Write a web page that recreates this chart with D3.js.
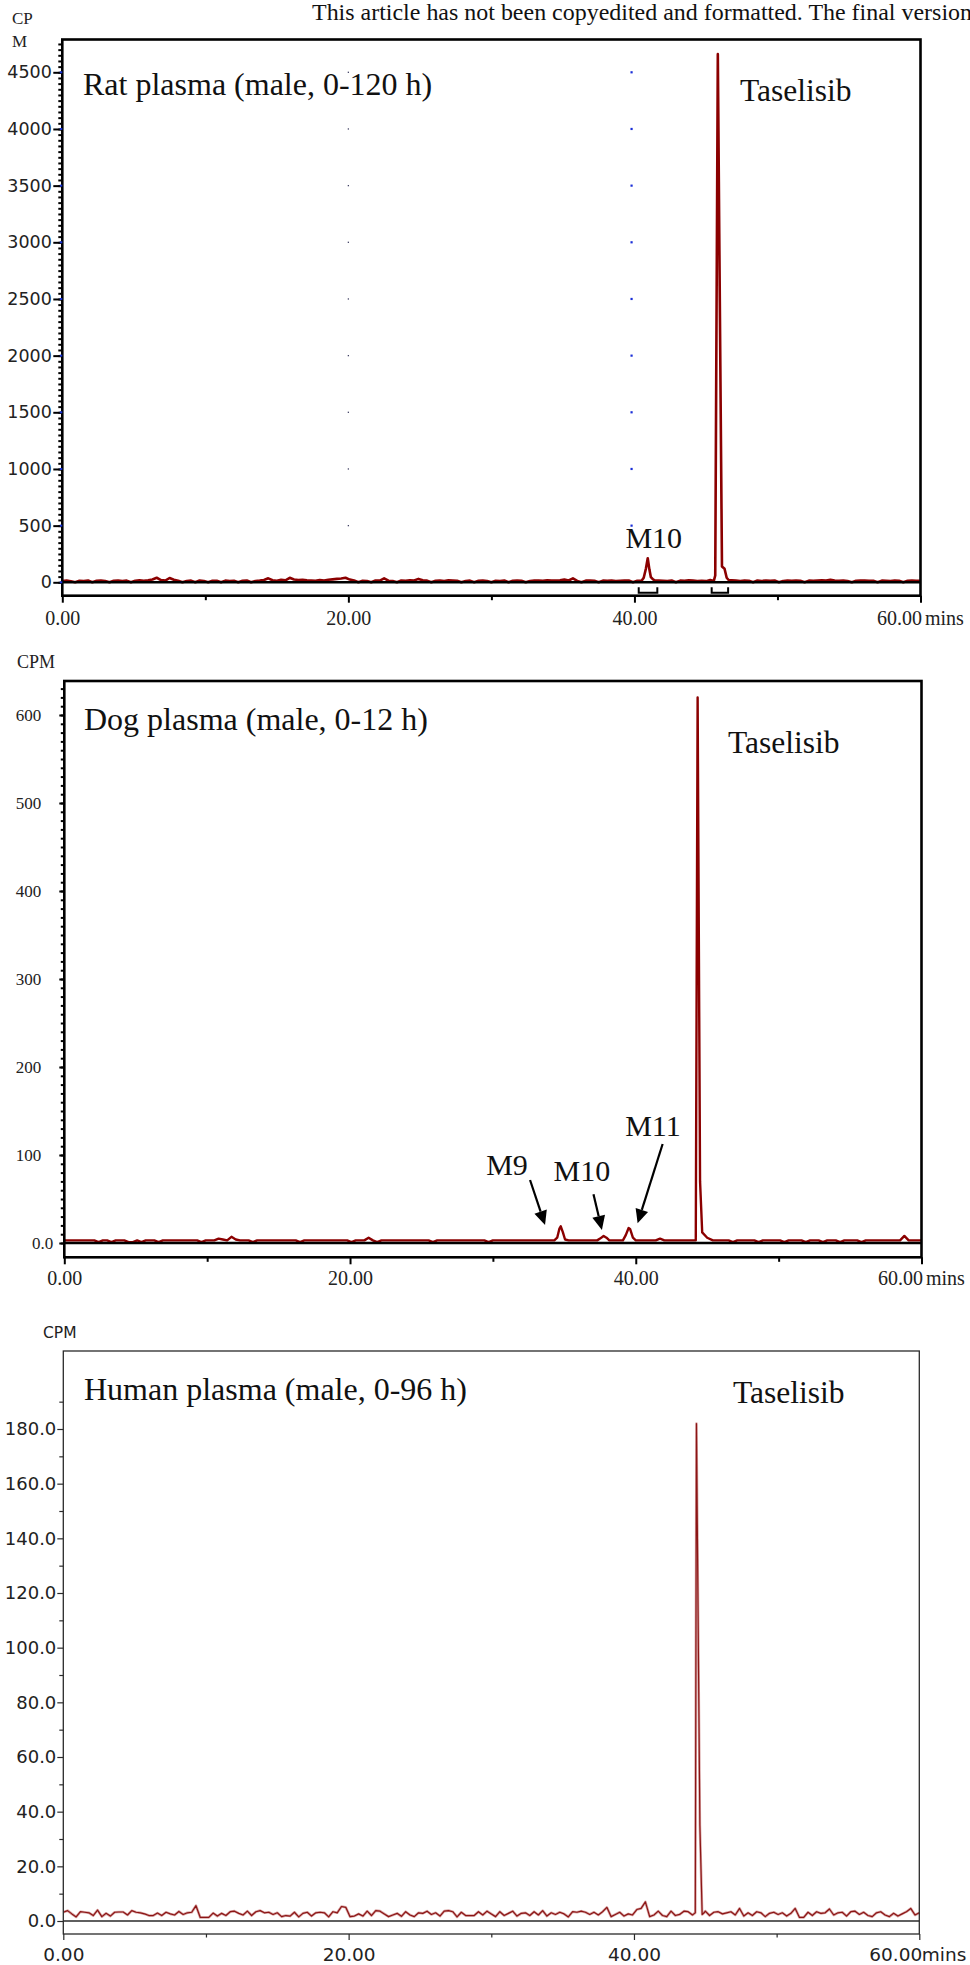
<!DOCTYPE html>
<html><head><meta charset="utf-8">
<script src="https://cdn.jsdelivr.net/npm/d3@7"></script>
<style>body{margin:0;background:#fff}</style>
</head><body>
<svg id="c" width="970" height="1965" xmlns="http://www.w3.org/2000/svg"></svg>
<script>
// ---------------- DATA ----------------
const xTicks = [0, 20, 40, 60];
const xTickLabels = ["0.00", "20.00", "40.00", "60.00"];
const xMinor = [10, 30, 50];
const sampleStep = 0.3; // min between baseline samples

// Rat plasma (CPM)
const ratBase = [
 12,15,10,0,14,12,16,0,13,15,
 12,0,14,16,12,15,0,13,17,14,
 18,25,40,20,15,38,22,14,0,12,
 15,0,16,12,0,14,13,0,15,12,
 14,0,13,16,0,12,15,20,35,18,
 14,22,18,40,25,20,22,18,16,14,
 20,16,22,26,30,34,40,24,16,0,
 14,12,0,16,15,35,14,12,0,16,
 14,18,16,30,18,15,0,14,16,12,
 18,16,14,0,12,15,0,13,15,12,
 0,14,12,16,0,13,15,14,0,12,
 15,16,14,18,15,16,18,25,16,35,
 12,0,15,16,14,0,15,13,16,12,
 14,15,16,0,14,15,15,15,18,16,
 14,12,16,0,15,14,18,15,12,14,
 10,20,12,12,14,16,18,15,12,16,
 14,0,16,12,15,14,16,0,12,15,
 14,16,13,0,15,14,16,18,16,22,
 16,14,15,12,0,14,16,15,14,13,
 0,15,14,12,16,14,0,13,15,14,
 14];
const ratPeakM10 = [[40.5,14],[40.65,40],[40.8,120],[40.93,212],[41.05,110],[41.15,45],[41.3,25],[41.45,15]];
const ratPeakTas = [[45.55,12],[45.65,60],[45.83,4660],[46.12,140],[46.3,120],[46.45,40],[46.6,18]];
const ratYTicks = [0,500,1000,1500,2000,2500,3000,3500,4000,4500];
const ratYLabels = ["0","500","1000","1500","2000","2500","3000","3500","4000","4500"];
const ratBrackets = [[40.3, 41.6], [45.4, 46.55]];

// Dog plasma (CPM)
const dogBase = [
 3,3,3,3,3,3,3,3,1,3,
 3,1,3,3,3,1,1,3,1,3,
 3,3,1,3,3,3,3,3,3,3,
 3,3,1,3,3,3,5,4,3,7,
 4,3,3,3,1,3,3,3,3,3,
 3,3,3,3,3,1,3,3,3,3,
 3,3,3,3,3,3,3,1,3,3,
 3,6,3,1,3,3,3,3,3,3,
 3,3,3,3,3,3,1,3,3,3,
 3,3,3,3,3,3,3,3,3,1,
 3,3,3,3,3,3,3,3,3,3,
 3,3,3,3,3,3,3,3,3,3,
 3,3,3,3,3,3,3,3,3,3,
 3,3,3,3,3,3,3,3,3,5,
 3,3,3,3,3,3,3,3,3,3,
 3,3,3,3,3,3,1,3,3,3,
 3,3,1,3,3,3,3,3,1,3,
 3,3,3,1,3,3,3,1,3,3,
 3,1,3,3,3,3,1,3,3,3,
 3,3,3,3,3,3,8,3,3,3,
 3];
const dogPeakM9  = [[34.3,3],[34.5,6],[34.65,16],[34.75,19],[34.9,12],[35.05,4],[35.3,3]];
const dogPeakM10 = [[37.3,3],[37.5,5],[37.75,8],[37.95,6],[38.15,3]];
const dogPeakM11 = [[39.1,3],[39.3,9],[39.5,17],[39.6,16],[39.8,6],[40.0,3]];
const dogPeakTas = [[44.2,3],[44.33,620],[44.5,70],[44.65,12],[45.0,6],[45.4,3]];
const dogYTicks = [0,100,200,300,400,500,600];
const dogYLabels = ["0.0","100","200","300","400","500","600"];
const dogLabels = [
  {text:"M9",  t:29.53, v:77.3,  from:[32.6,71.6],  to:[33.65,20.5]},
  {text:"M10", t:34.24, v:70.8,  from:[37.04,55.3], to:[37.63,14.8]},
  {text:"M11", t:39.26, v:121.6, from:[41.88,112.5],to:[40.13,22.4]}
];

// Human plasma (CPM)
const humBase = [
 3.2,3.8,2.6,1.5,3.4,3.2,3.0,2.0,4.0,1.6,
 2.8,1.8,3.2,3.3,3.3,2.2,3.8,3.2,3.0,2.6,
 2.0,2.0,2.9,2.0,3.2,2.6,2.2,3.5,2.4,3.0,
 3.2,5.6,1.3,1.3,1.3,2.9,1.8,2.8,2.0,3.4,
 3.6,2.8,2.2,3.6,2.0,3.4,3.8,3.0,3.2,2.4,
 3.0,1.6,2.0,1.8,3.2,1.5,2.8,3.2,1.8,3.0,
 3.2,3.0,1.5,3.4,3.0,5.3,5.0,1.6,1.8,2.6,
 1.8,3.6,2.0,3.8,3.6,2.6,1.6,2.2,2.8,1.7,
 3.4,2.2,1.6,3.0,2.8,3.6,2.4,3.0,1.8,3.6,
 3.8,3.4,1.5,3.2,2.0,2.0,2.0,3.4,2.2,3.6,
 2.6,1.6,3.4,2.0,2.8,3.6,1.8,2.8,3.0,2.0,
 3.4,2.2,3.8,1.8,3.0,2.4,3.2,2.6,1.5,3.4,
 3.2,3.6,3.2,2.4,3.2,2.2,3.4,5.0,1.6,2.4,
 3.2,1.8,2.6,2.2,4.2,4.6,7.0,1.6,2.2,3.6,
 2.0,1.6,3.6,2.0,2.4,3.6,3.4,2.2,3.0,3.0,
 3.6,2.0,3.2,3.4,2.6,3.0,3.4,2.2,4.6,1.8,
 3.0,2.0,3.4,3.0,1.6,2.8,3.2,2.4,3.0,1.8,
 2.8,4.6,1.3,1.3,3.2,2.0,3.4,2.8,3.0,4.4,
 2.2,3.0,3.2,1.8,3.4,3.6,2.4,3.2,2.0,1.6,
 3.0,3.4,2.2,1.6,2.8,1.8,2.6,3.4,4.6,2.2,
 3.0];
const humPeakTas = [[44.2,2.6],[44.3,3.0],[44.38,182],[44.62,35],[44.78,2.4],[44.95,3.2]];
const humYTicks = [0,20,40,60,80,100,120,140,160,180];
const humYLabels = ["0.0","20.0","40.0","60.0","80.0","100.0","120.0","140.0","160.0","180.0"];

// ---------------- DRAWING ----------------
const SERIF = "'Liberation Serif','Times New Roman',serif";
const SANS = "'DejaVu Sans',Verdana,sans-serif";
const svg = d3.select("#c");

function series(base, step, peaks) {
  let pts = base.map((v, i) => [+(i * step).toFixed(3), v]);
  peaks.forEach(p => {
    const a = p[0][0], b = p[p.length - 1][0];
    pts = pts.filter(d => d[0] < a || d[0] > b).concat(p);
  });
  return pts.sort((m, n) => m[0] - n[0]);
}

svg.append("text").attr("x", 312).attr("y", 20)
  .attr("font-family", SERIF).attr("font-size", 23).attr("fill", "#111")
  .attr("textLength", 660).attr("lengthAdjust", "spacingAndGlyphs")
  .text("This article has not been copyedited and formatted. The final version");

function panel(c) {
  const g = svg.append("g");
  const x = d3.scaleLinear().domain([0, 60]).range([c.left, c.right]);
  const y = d3.scaleLinear().domain([0, c.yRef]).range([c.y0, c.yRefPx]);
  const data = series(c.base, sampleStep, c.peaks);
  const line = d3.line().x(d => x(d[0])).y(d => y(d[1]));

  if (c.dots) {
    c.dots.forEach(dd => {
      g.selectAll(null).data(c.yTicks.filter(v => v > 0)).enter().append("rect")
        .attr("x", x(dd.t) - dd.s / 2).attr("y", v => y(v) - dd.s / 2)
        .attr("width", dd.s).attr("height", dd.s).attr("fill", dd.color);
    });
  }

  if (c.halo) {
    g.append("path").datum(data).attr("d", line).attr("fill", "none")
      .attr("stroke", c.halo).attr("stroke-width", c.lw + 1.4).attr("stroke-linejoin", "round");
  }
  g.append("path").datum(data).attr("d", line).attr("fill", "none")
    .attr("stroke", c.color).attr("stroke-width", c.lw).attr("stroke-linejoin", "round");

  g.append("line").attr("x1", c.left).attr("x2", c.right).attr("y1", y(0)).attr("y2", y(0))
    .attr("stroke", c.axisColor).attr("stroke-width", c.axisW);

  g.append("rect").attr("x", c.left).attr("y", c.top).attr("width", c.right - c.left)
    .attr("height", c.bottom - c.top).attr("fill", "none")
    .attr("stroke", c.axisColor).attr("stroke-width", c.axisW);

  const yMinorAxis = d3.axisLeft(y).tickValues(c.yMinor).tickSize(c.minLen).tickFormat("");
  const gm = g.append("g").attr("transform", `translate(${c.left},0)`).call(yMinorAxis);
  gm.select(".domain").remove();
  gm.selectAll("line").attr("stroke", c.axisColor).attr("stroke-width", c.tickW);

  const yAxis = d3.axisLeft(y).tickValues(c.yTicks).tickSize(c.majLen).tickPadding(c.yPad)
    .tickFormat((d, i) => c.yLabels[i]);
  const ga = g.append("g").attr("transform", `translate(${c.left},0)`).call(yAxis);
  ga.select(".domain").remove();
  ga.selectAll("line").attr("stroke", c.axisColor).attr("stroke-width", c.tickW);
  ga.selectAll("text").attr("font-family", c.yFont).attr("font-size", c.yFs).attr("fill", "#222");
  if (c.zeroLabelX !== undefined) {
    ga.selectAll(".tick").filter(d => d === 0).select("text").attr("x", c.zeroLabelX);
  }
  if (c.blueTicks) {
    g.selectAll(null).data(c.yTicks).enter().append("rect")
      .attr("x", c.left - 2.5).attr("y", v => y(v) - 1).attr("width", 2.5).attr("height", 2)
      .attr("fill", "#1530d0");
  }

  const xm = g.append("g").attr("transform", `translate(0,${c.bottom})`)
    .call(d3.axisBottom(x).tickValues(xMinor).tickSize(c.xMinLen).tickFormat(""));
  xm.select(".domain").remove();
  xm.selectAll("line").attr("stroke", c.axisColor).attr("stroke-width", c.tickW);
  const xa = g.append("g").attr("transform", `translate(0,${c.bottom})`)
    .call(d3.axisBottom(x).tickValues(xTicks).tickSize(c.xMajLen).tickPadding(c.xPad)
      .tickFormat((d, i) => xTickLabels[i]));
  xa.select(".domain").remove();
  xa.selectAll("line").attr("stroke", c.axisColor).attr("stroke-width", c.tickW);
  xa.selectAll("text").attr("font-family", c.xFont).attr("font-size", c.xFs).attr("fill", "#222");
  const last = xa.selectAll(".tick").filter(d => d === 60);
  last.select("text").attr("text-anchor", "end").attr("x", c.lastDx);
  last.append("text").attr("x", c.minsDx).attr("y", c.xMajLen + c.xPad).attr("dy", "0.71em")
    .attr("text-anchor", "start").attr("font-family", c.xFont).attr("font-size", c.xFs)
    .attr("fill", "#222").text("mins");

  c.yLab.forEach(l => {
    g.append("text").attr("x", l.x).attr("y", l.y).attr("font-family", l.font)
      .attr("font-size", l.fs).attr("fill", "#222").text(l.text);
  });

  g.append("text").attr("x", c.titleX).attr("y", c.titleY).attr("font-family", SERIF)
    .attr("font-size", 32).attr("fill", "#111").text(c.title);
  g.append("text").attr("x", c.tasX).attr("y", c.tasY).attr("font-family", SERIF)
    .attr("font-size", 31.5).attr("fill", "#111").text("Taselisib");

  return { g, x, y };
}

// Panel 1 - rat
const p1 = panel({
  left: 62.3, right: 920.5, top: 39.5, bottom: 595.7,
  y0: 582.3, yRef: 4500, yRefPx: 72.3,
  base: ratBase, peaks: [ratPeakM10, ratPeakTas],
  color: "#8b0000", lw: 2.6, axisColor: "#000", axisW: 2.6, tickW: 2,
  yTicks: ratYTicks, yLabels: ratYLabels, yMinor: d3.range(0, 4800, 50),
  majLen: 9, minLen: 4, yPad: 1.5, yFont: SANS, yFs: 17.5, blueTicks: true,
  xMinLen: 4.5, xMajLen: 7, xPad: 8.5, xFont: SERIF, xFs: 20, lastDx: 1, minsDx: 4,
  dots: [{t: 20, s: 1.3, color: "#446"}, {t: 39.8, s: 2.2, color: "#1a2fd8"}],
  yLab: [{x: 12, y: 24, text: "CP", font: SERIF, fs: 17}, {x: 12, y: 47, text: "M", font: SERIF, fs: 17}],
  title: "Rat plasma (male, 0-120 h)", titleX: 83, titleY: 94.5, tasX: 740, tasY: 101
});
p1.g.append("text").attr("x", p1.x(41.35)).attr("y", p1.y(300)).attr("text-anchor", "middle")
  .attr("font-family", SERIF).attr("font-size", 30).attr("fill", "#111").text("M10");
ratBrackets.forEach(b => {
  const xa = p1.x(b[0]), xb = p1.x(b[1]), ytop = p1.y(0) + 5, ybot = p1.y(0) + 10.5;
  p1.g.append("path").attr("d", `M${xa},${ytop}V${ybot}H${xb}V${ytop}`)
    .attr("fill", "none").attr("stroke", "#000").attr("stroke-width", 2);
});

// Panel 2 - dog
const p2 = panel({
  left: 64.3, right: 921.5, top: 681, bottom: 1257.3,
  y0: 1243, yRef: 600, yRefPx: 715,
  base: dogBase, peaks: [dogPeakM9, dogPeakM10, dogPeakM11, dogPeakTas],
  color: "#8b0000", lw: 2.4, axisColor: "#000", axisW: 2.6, tickW: 2,
  yTicks: dogYTicks, yLabels: dogYLabels, yMinor: d3.range(0, 640, 10),
  majLen: 5, minLen: 3.5, yPad: 18, yFont: SERIF, yFs: 17, zeroLabelX: -11,
  xMinLen: 4.5, xMajLen: 7, xPad: 6.5, xFont: SERIF, xFs: 20, lastDx: 1, minsDx: 4,
  yLab: [{x: 17, y: 668, text: "CPM", font: SERIF, fs: 18}],
  title: "Dog plasma (male, 0-12 h)", titleX: 84, titleY: 730, tasX: 728, tasY: 753
});
dogLabels.forEach(l => {
  p2.g.append("text").attr("x", p2.x(l.t)).attr("y", p2.y(l.v)).attr("font-family", SERIF)
    .attr("font-size", 30).attr("fill", "#111").text(l.text);
  const x1 = p2.x(l.from[0]), y1 = p2.y(l.from[1]), x2 = p2.x(l.to[0]), y2 = p2.y(l.to[1]);
  const ang = Math.atan2(y2 - y1, x2 - x1), hl = 14, hw = 6.5;
  const bx = x2 - hl * Math.cos(ang), by = y2 - hl * Math.sin(ang);
  p2.g.append("line").attr("x1", x1).attr("y1", y1).attr("x2", bx).attr("y2", by)
    .attr("stroke", "#000").attr("stroke-width", 2.2);
  p2.g.append("path").attr("d",
    `M${x2},${y2}L${bx + hw * Math.sin(ang)},${by - hw * Math.cos(ang)}L${bx - hw * Math.sin(ang)},${by + hw * Math.cos(ang)}Z`)
    .attr("fill", "#000");
});

// Panel 3 - human
panel({
  left: 63.3, right: 919.3, top: 1351, bottom: 1934,
  y0: 1921, yRef: 180, yRefPx: 1429,
  base: humBase, peaks: [humPeakTas],
  color: "#8b1515", halo: "#d8a4a4", lw: 1.2, axisColor: "#2a2a2a", axisW: 1.3, tickW: 1.2,
  yTicks: humYTicks, yLabels: humYLabels, yMinor: d3.range(10, 200, 20),
  majLen: 6, minLen: 4, yPad: 1, yFont: SANS, yFs: 18,
  xMinLen: 3.5, xMajLen: 6, xPad: 7.5, xFont: SANS, xFs: 18.5, lastDx: 2.5, minsDx: 2,
  yLab: [{x: 43, y: 1338, text: "CPM", font: SANS, fs: 15.5}],
  title: "Human plasma (male, 0-96 h)", titleX: 84, titleY: 1400, tasX: 733, tasY: 1403
});
</script>
</body></html>
